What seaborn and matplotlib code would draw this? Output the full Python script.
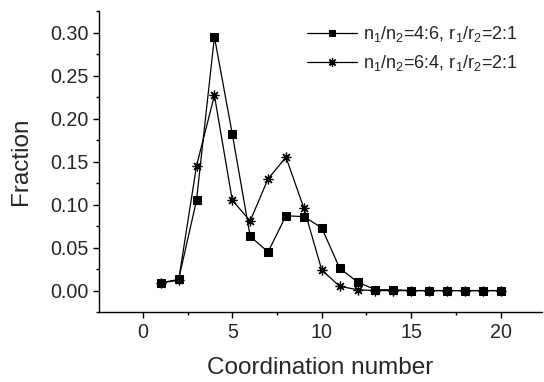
import pandas as pd
import matplotlib
matplotlib.use("Agg")
import matplotlib.pyplot as plt
import seaborn as sns
from matplotlib.ticker import MultipleLocator

# Coordination number distribution for the two mixtures
coord = list(range(1, 21))
frac_46 = [0.009, 0.013, 0.105, 0.295, 0.182, 0.063, 0.045, 0.087, 0.086, 0.073,
           0.026, 0.010, 0.001, 0.001, 0.0, 0.0, 0.0, 0.0, 0.0, 0.0]
frac_64 = [0.009, 0.012, 0.145, 0.227, 0.105, 0.081, 0.130, 0.155, 0.096, 0.024,
           0.005, 0.001, 0.0, 0.0, 0.0, 0.0, 0.0, 0.0, 0.0, 0.0]
label_46 = r"n$_1$/n$_2$=4:6, r$_1$/r$_2$=2:1"
label_64 = r"n$_1$/n$_2$=6:4, r$_1$/r$_2$=2:1"

df = pd.DataFrame({"Coordination number": coord, "a": frac_46, "b": frac_64})

sns.set_style("ticks")
plt.rcParams["font.family"] = ["Liberation Sans", "DejaVu Sans"]
plt.rcParams["mathtext.fontset"] = "custom"
plt.rcParams["mathtext.rm"] = "Liberation Sans"
plt.rcParams["mathtext.it"] = "Liberation Sans"

fig = plt.figure(figsize=(5.44, 3.82), dpi=100)
ax = fig.add_axes([0.182, 0.183, 0.814, 0.788])

sns.lineplot(data=df, x="Coordination number", y="a", ax=ax, color="black", lw=0.9,
             marker="s", markersize=5.2, markeredgecolor="black", label=label_46)
sns.lineplot(data=df, x="Coordination number", y="b", ax=ax, color="black", lw=0.9,
             marker=(8, 2, 0), markersize=7, markeredgewidth=0.9, markeredgecolor="black",
             label=label_64)

ax.set_xlim(-2.45, 22.3)
ax.set_ylim(-0.025, 0.325)
ax.xaxis.set_major_locator(MultipleLocator(5))
ax.xaxis.set_minor_locator(MultipleLocator(2.5))
ax.yaxis.set_major_locator(MultipleLocator(0.05))
ax.yaxis.set_minor_locator(MultipleLocator(0.025))
ax.yaxis.set_major_formatter(matplotlib.ticker.FormatStrFormatter("%.2f"))
ax.tick_params(which="major", direction="out", length=4.5, width=1, labelsize=14.2,
               color="black", pad=3)
ax.tick_params(which="minor", direction="out", length=2.5, width=1, color="black")
for s in ["left", "bottom"]:
    ax.spines[s].set_linewidth(1)
    ax.spines[s].set_color("black")
sns.despine(ax=ax)

ax.set_xlabel("Coordination number", fontsize=17.5, labelpad=11)
ax.set_ylabel("Fraction", fontsize=17.5, labelpad=13)

leg = ax.legend(loc="upper left", frameon=False, fontsize=13, handlelength=2.8,
                handletextpad=0.3, labelspacing=0.5, markerscale=0.85,
                bbox_to_anchor=(0.564, 0.937), bbox_transform=fig.transFigure,
                borderpad=0, borderaxespad=0.0)

fig.savefig("out.png", dpi=100)
